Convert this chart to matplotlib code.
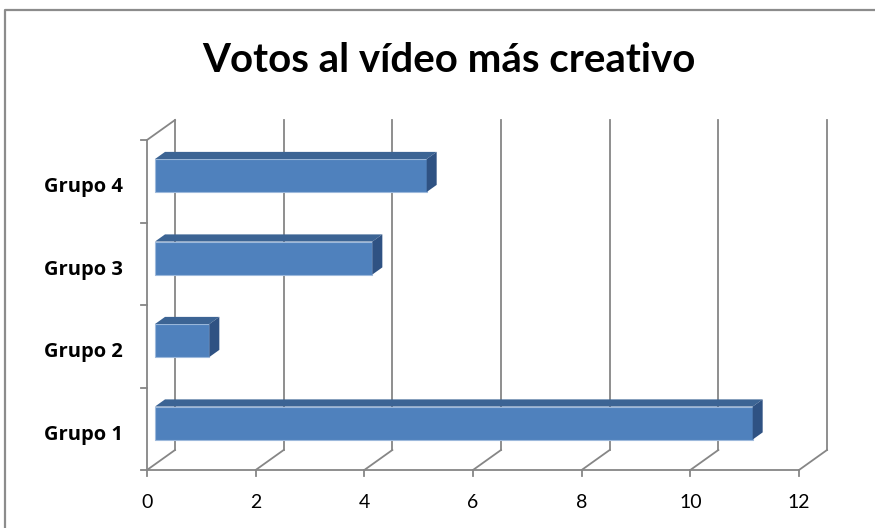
import matplotlib
matplotlib.use("Agg")
import matplotlib.pyplot as plt
from matplotlib.patches import Polygon
from matplotlib.lines import Line2D

# datos del gráfico
categorias = ["Grupo 1", "Grupo 2", "Grupo 3", "Grupo 4"]
votos = [11, 1, 4, 5]
ticks_x = [0, 2, 4, 6, 8, 10, 12]
titulo = "Votos al vídeo más creativo"

W, H = 875, 528
GRIS = "#868686"
AZUL = "#4F81BD"
AZUL_TOP = "#3C6494"
AZUL_LADO = "#2F5283"

plt.rcParams['font.family'] = ['Lato', 'DejaVu Sans']

fig = plt.figure(figsize=(W / 100, H / 100), dpi=100)
# plano frontal del gráfico 3D (en píxeles de la imagen)
x0, x1, y_top, y_bot = 147, 799, 140, 470
ax = fig.add_axes([x0 / W, (H - y_bot) / H, (x1 - x0) / W, (y_bot - y_top) / H])
ax.set_xlim(0, 12)
ax.set_ylim(-0.5, 3.5)
ax.axis('off')

# profundidad: 28 px a la derecha y 20 px hacia arriba, en unidades de datos
ddx = 28 / ((x1 - x0) / 12)
ddy = 20 / ((y_bot - y_top) / 4)
ymin, ymax = -0.5, 3.5

def linea(xs, ys, **kw):
    ax.add_line(Line2D(xs, ys, color=GRIS, lw=1.3, clip_on=False, **kw))

# pared del fondo y suelo
for t in ticks_x:
    linea([t + ddx, t + ddx], [ymin + ddy, ymax + ddy])
    linea([t, t + ddx], [ymin, ymin + ddy])
    # marcas del eje x
    linea([t, t], [ymin, ymin - 0.075])
# pared izquierda
linea([0, ddx], [ymax, ymax + ddy])
linea([0, 0], [ymin, ymax])
linea([0, 12], [ymin, ymin])
for k in range(5):
    linea([0, -0.11], [ymin + k, ymin + k])

# barras con efecto 3D
f0, f1 = 0.286, 0.643
alto = 0.4
for i, v in enumerate(votos):
    yc = i + f0 * ddy
    ax.barh(yc, v, left=f0 * ddx, height=alto, color=AZUL,
            edgecolor="#9DB9DC", linewidth=0.8, clip_on=False, zorder=3)
    b, t = yc - alto / 2, yc + alto / 2
    sx, sy = (f1 - f0) * ddx, (f1 - f0) * ddy
    xa, xb = f0 * ddx, v + f0 * ddx
    ax.add_patch(Polygon([(xa, t), (xb, t), (xb + sx, t + sy), (xa + sx, t + sy)],
                         closed=True, facecolor=AZUL_TOP, edgecolor="none",
                         clip_on=False, zorder=3))
    ax.add_patch(Polygon([(xb, b), (xb, t), (xb + sx, t + sy), (xb + sx, b + sy)],
                         closed=True, facecolor=AZUL_LADO, edgecolor="none",
                         clip_on=False, zorder=3))
    ax.text(-0.44, i - 0.07, categorias[i], ha="right", va="center",
            fontsize=14.5, fontweight="bold", color="black",
            family=["Open Sans", "DejaVu Sans"])

for t in ticks_x:
    ax.text(t, ymin - 0.4, str(t), ha="center", va="center", fontsize=14,
            color="black")

fig.text(449 / W, 1 - 60 / H, titulo, ha="center", va="center",
         fontsize=29, fontweight="bold", color="black")

# borde del área del gráfico
fig.add_artist(Line2D([5 / W, 5 / W, 1.01], [-0.01, 1 - 10 / H, 1 - 10 / H],
                      transform=fig.transFigure, color="#8C8C8C", lw=1.6))

fig.savefig("out.png", dpi=100, facecolor="white")
